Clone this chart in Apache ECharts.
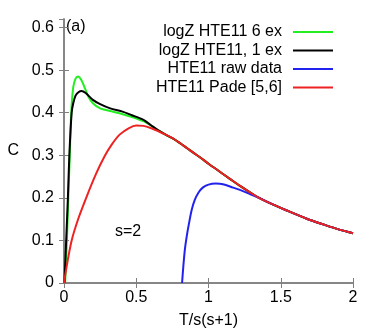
<!DOCTYPE html>
<html>
<head>
<meta charset="utf-8">
<script src="https://cdn.jsdelivr.net/npm/echarts@6/dist/echarts.min.js"></script>
<style>
  html, body { margin: 0; padding: 0; background: #fff; }
  #chart { width: 382px; height: 334px; }
</style>
</head>
<body>
<div id="chart"></div>
<script>
// 图例名称
const seriesNames = ['logZ HTE11 6 ex', 'logZ HTE11, 1 ex', 'HTE11 raw data', 'HTE11 Pade [5,6]'];
const seriesColors = ['#22ee22', '#000000', '#2222ee', '#ee2222'];

// x轴刻度
const xTicks = [0, 0.5, 1, 1.5, 2];

// Pade [5,6] 曲线 (x, C)
const padeData = [
  [0, 0], [0.02, 0.042], [0.053, 0.1], [0.1, 0.152], [0.157, 0.203], [0.22, 0.255],
  [0.28, 0.297], [0.33, 0.325], [0.387, 0.349], [0.45, 0.364], [0.5, 0.37],
  [0.55, 0.369], [0.6, 0.364], [0.65, 0.357], [0.7, 0.349], [0.75, 0.34],
  [0.8, 0.329], [0.85, 0.317], [0.9, 0.305], [0.95, 0.293], [1.0, 0.28],
  [1.057, 0.2665], [1.1, 0.256], [1.15, 0.244], [1.218, 0.228], [1.287, 0.213],
  [1.35, 0.2], [1.449, 0.184], [1.55, 0.169], [1.68, 0.151], [1.8, 0.137],
  [1.9, 0.126], [2.0, 0.117]
];

// logZ 6 ex 前段 (之后与 Pade 重合)
const sixExHead = [
  [0.008, 0], [0.02, 0.1], [0.03, 0.2], [0.04, 0.3], [0.05, 0.4], [0.064, 0.46],
  [0.08, 0.48], [0.097, 0.485], [0.12, 0.477], [0.145, 0.457], [0.17, 0.437],
  [0.2, 0.422], [0.25, 0.41], [0.32, 0.404], [0.4, 0.397], [0.47, 0.39],
  [0.55, 0.38], [0.6, 0.37], [0.65, 0.359]
];

// logZ 1 ex 前段
const oneExHead = [
  [0.003, 0], [0.015, 0.1], [0.027, 0.2], [0.037, 0.3], [0.053, 0.4], [0.064, 0.422],
  [0.08, 0.44], [0.1, 0.448], [0.122, 0.451], [0.15, 0.446], [0.2, 0.43],
  [0.25, 0.42], [0.32, 0.41], [0.4, 0.403], [0.47, 0.394], [0.55, 0.383],
  [0.6, 0.371], [0.65, 0.359]
];

// 原始数据前段
const rawHead = [
  [0.817, 0], [0.826, 0.04], [0.837, 0.08], [0.849, 0.109], [0.865, 0.14],
  [0.884, 0.172], [0.905, 0.195], [0.93, 0.212], [0.96, 0.224], [1.0, 0.231],
  [1.05, 0.2335], [1.1, 0.232], [1.17, 0.224], [1.23, 0.217], [1.287, 0.209]
];

// 前段 + Pade 尾部
function withTail (head) {
  const lastX = head[head.length - 1][0];
  return head.concat(padeData.filter(p => p[0] > lastX + 0.01));
}

const chartData = [withTail(sixExHead), withTail(oneExHead), withTail(rawHead), padeData];

const fontFamily = '"Liberation Sans", Arial, sans-serif';
const fontSize = 16;
const frameColor = '#7f7f7f';
const legendRowTop = [24, 42.5, 61, 79.5];

const chart = echarts.init(document.getElementById('chart'));

const axisCommon = {
  type: 'value',
  axisLine: { show: true, lineStyle: { color: frameColor, width: 1.5 } },
  axisTick: { show: true, inside: true, length: 5, lineStyle: { color: frameColor, width: 1 } },
  splitLine: { show: false }
};

const option = {
  animation: false,
  backgroundColor: '#fff',
  grid: { left: 64, right: 29, top: 19, bottom: 51 },
  legend: seriesNames.map((name, i) => ({
    data: [name],
    right: 49,
    top: legendRowTop[i],
    align: 'right',
    icon: 'rect',
    itemWidth: 40,
    itemHeight: 2,
    padding: 0,
    selectedMode: false,
    textStyle: { fontSize: fontSize, color: '#000', fontFamily: fontFamily, padding: [0, 6, 0, 0] }
  })),
  xAxis: [
    Object.assign({}, axisCommon, {
      position: 'bottom',
      min: 0, max: 2, interval: 0.5,
      name: 'T/s(s+1)',
      nameLocation: 'middle',
      nameGap: 30,
      nameTextStyle: { fontSize: fontSize, color: '#000', fontFamily: fontFamily },
      axisLabel: { margin: 7, fontSize: fontSize, color: '#000', fontFamily: fontFamily,
        formatter: v => (xTicks.indexOf(v) >= 0 ? String(v) : '') }
    }),
    Object.assign({}, axisCommon, {
      position: 'top',
      min: 0, max: 2, interval: 0.5,
      axisLabel: { show: false }
    })
  ],
  yAxis: [
    Object.assign({}, axisCommon, {
      position: 'left',
      min: 0, max: 0.62, interval: 0.1,
      name: 'C',
      nameLocation: 'middle',
      nameRotate: 0,
      nameGap: 45,
      nameTextStyle: { fontSize: fontSize, color: '#000', fontFamily: fontFamily },
      axisLabel: { margin: 10, fontSize: fontSize, color: '#000', fontFamily: fontFamily,
        showMaxLabel: false,
        formatter: v => (Math.round(v * 10) / 10).toString() }
    }),
    Object.assign({}, axisCommon, {
      position: 'right',
      min: 0, max: 0.62, interval: 0.1,
      axisLabel: { show: false }
    })
  ],
  graphic: [
    { type: 'text', left: 66, top: 19, style: { text: '(a)', fontSize: fontSize, fill: '#000', fontFamily: fontFamily } },
    { type: 'text', left: 115, top: 224, style: { text: 's=2', fontSize: fontSize, fill: '#000', fontFamily: fontFamily } }
  ],
  series: seriesNames.map((name, i) => ({
    name: name,
    type: 'line',
    data: chartData[i],
    smooth: 0.3,
    showSymbol: false,
    clip: true,
    lineStyle: { color: seriesColors[i], width: 2 },
    itemStyle: { color: seriesColors[i] }
  }))
};

chart.setOption(option);
</script>
</body>
</html>
